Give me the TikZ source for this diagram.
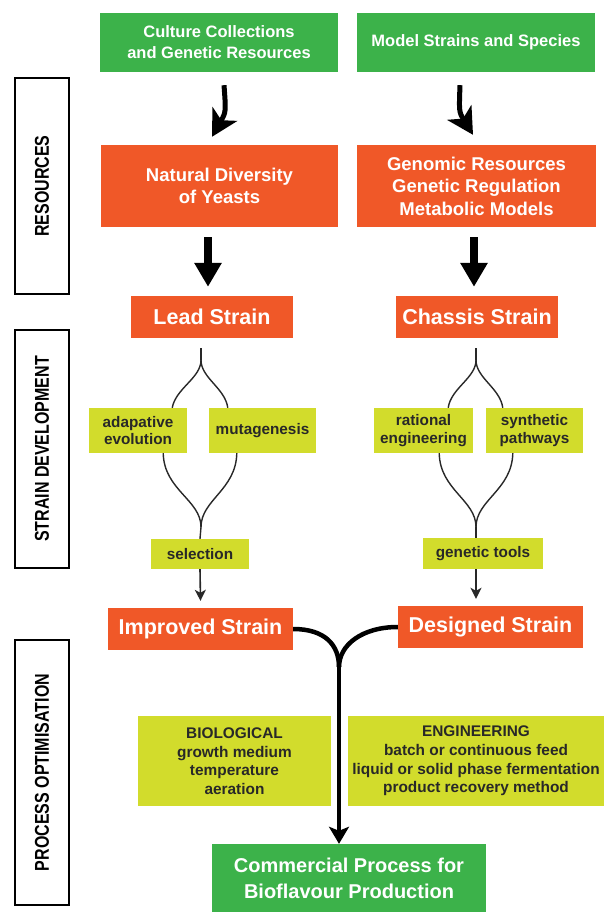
\documentclass[tikz,border=0pt]{standalone}
\usepackage{fontspec}
\setmainfont{Liberation Sans}
\usetikzlibrary{arrows.meta}
\definecolor{gr}{RGB}{60,178,74}
\definecolor{orng}{RGB}{240,88,40}
\definecolor{ylw}{RGB}{210,220,44}
\definecolor{dk}{RGB}{40,40,40}
\tikzset{
  basebox/.style={inner sep=0pt, align=center},
  gbox/.style={basebox, fill=gr, text=white},
  obox/.style={basebox, fill=orng, text=white},
  ybox/.style={basebox, fill=ylw, text=dk},
  lab/.style={basebox, draw=black, line width=2.5pt, fill=white, rotate=90,
     font=\fontsize{20}{22}\selectfont\bfseries},
  fbig/.style={font=\fontsize{16.5}{21}\selectfont\bfseries},
  fmid/.style={font=\fontsize{18.5}{22.5}\selectfont\bfseries},
  fstrain/.style={font=\fontsize{21.5}{24}\selectfont\bfseries},
  fsmall/.style={font=\fontsize{15.3}{17.7}\selectfont\bfseries},
  fbot/.style={font=\fontsize{15.4}{18.6}\selectfont\bfseries},
  lens/.style={draw=dk, line width=1.4pt},
  fatarrow/.style={line width=8pt, -{Triangle[width=26pt,length=24pt]}},
  curvarrow/.style={line width=5pt, -{Stealth[width=28pt,length=26pt,inset=7pt]}},
  thinarrow/.style={draw=dk, line width=1.6pt, -{Stealth[width=11pt,length=11pt,inset=3pt]}},
  yarrow/.style={line width=4.5pt},
}
\begin{document}
\begin{tikzpicture}[x=1pt,y=-1pt]
\useasboundingbox[fill=white] (0,0) rectangle (604,912);

% side labels
\node[lab, minimum width=216pt, minimum height=54pt] (res) at (42,186) {\scalebox{0.8}[1]{RESOURCES}};
\node[lab, minimum width=238pt, minimum height=54pt] (sdev) at (42,449) {\scalebox{0.8}[1]{STRAIN DEVELOPMENT}};
\node[lab, minimum width=265pt, minimum height=54pt] (popt) at (42,772.5) {\scalebox{0.8}[1]{PROCESS OPTIMISATION}};

% top green boxes
\node[gbox, fbig, minimum width=238pt, minimum height=59pt] (cult) at (219,42.5) {Culture Collections\\and Genetic Resources};
\node[gbox, fbig, minimum width=238pt, minimum height=59pt] (model) at (476,42.5) {Model Strains and Species};

% orange resource boxes
\node[obox, fmid, minimum width=237pt, minimum height=82pt] (nat) at (219.5,186) {Natural Diversity\\of Yeasts};
\node[obox, fmid, minimum width=239pt, minimum height=82pt] (gen) at (476.5,186) {Genomic Resources\\Genetic Regulation\\Metabolic Models};

% strains
\node[obox, fstrain, minimum width=162pt, minimum height=42pt] (lead) at (212,317) {Lead Strain};
\node[obox, fstrain, minimum width=162pt, minimum height=42pt] (chas) at (477,317) {Chassis Strain};

% yellow small boxes
\node[ybox, fsmall, minimum width=98pt, minimum height=45pt] (adapt) at (138,430.5) {adapative\\evolution};
\node[ybox, fsmall, minimum width=107pt, minimum height=45pt] (mutag) at (262.5,430.5) {mutagenesis};
\node[ybox, fsmall, minimum width=99pt, minimum height=45pt] (ratio) at (423.5,430.5) {rational\\engineering};
\node[ybox, fsmall, minimum width=97pt, minimum height=45pt] (synth) at (534.5,430.5) {synthetic\\pathways};
\node[ybox, fsmall, minimum width=98pt, minimum height=30pt] (sel) at (200,554) {selection};
\node[ybox, fsmall, minimum width=120pt, minimum height=31pt] (gtools) at (483,553.5) {genetic tools};

% improved / designed
\node[obox, fstrain, minimum width=185pt, minimum height=42pt] (impr) at (200.5,629) {Improved Strain};
\node[obox, fstrain, minimum width=185pt, minimum height=42pt] (desg) at (490.5,627) {Designed Strain};

% bottom yellow boxes
\node[ybox, fbot, minimum width=193pt, minimum height=90pt] (bio) at (234.5,761) {BIOLOGICAL\\growth medium\\temperature\\aeration};
\node[ybox, fbot, minimum width=256pt, minimum height=90pt] (eng) at (476,761) {ENGINEERING\\batch or continuous feed\\liquid or solid phase fermentation\\product recovery method};

% commercial
\node[gbox, font=\fontsize{20}{26}\selectfont\bfseries, minimum width=274pt, minimum height=68pt] (comm) at (349,878) {Commercial Process for\\Bioflavour Production};

% curved top arrows
\draw[curvarrow] ([xshift=5pt,yshift=-13pt]cult.south) .. controls (226,112) .. ([xshift=-7.5pt,yshift=8pt]nat.north);
\draw[curvarrow] ([xshift=-16pt,yshift=-13pt]model.south) .. controls (459,112) .. ([xshift=-3.5pt,yshift=10pt]gen.north);

% fat arrows
\draw[fatarrow] ([xshift=-11.5pt,yshift=-10pt]nat.south) -- ([xshift=-4pt,yshift=9pt]lead.north);
\draw[fatarrow] ([xshift=-2.5pt,yshift=-10pt]gen.south) -- ([xshift=-3pt,yshift=9pt]chas.north);

% left lens
\coordinate (la) at (201,348);
\coordinate (ls) at (201,360);
\coordinate (lj) at (201,527);
\draw[lens] (la) -- (ls);
\draw[lens] (ls) .. controls (201,378) and (176,388) .. ([xshift=-15pt]adapt.north east);
\draw[lens] (ls) .. controls (201,378) and (225,388) .. ([xshift=19pt]mutag.north west);
\draw[lens] ([xshift=-24pt]adapt.south east) .. controls (164,490) and (201,500) .. (lj);
\draw[lens] ([xshift=28pt]mutag.south west) .. controls (236,490) and (201,500) .. (lj);
\draw[lens] (lj) -- (sel.north);
\draw[thinarrow] (sel.south) -- ([yshift=7pt]impr.north);

% right lens
\coordinate (ra) at (476,348);
\coordinate (rs) at (476,360);
\coordinate (rj) at (476,527);
\draw[lens] (ra) -- (rs);
\draw[lens] (rs) .. controls (476,378) and (451,388) .. ([xshift=-25pt]ratio.north east);
\draw[lens] (rs) .. controls (476,378) and (500,388) .. ([xshift=17pt]synth.north west);
\draw[lens] ([xshift=-34pt]ratio.south east) .. controls (440,490) and (476,500) .. (rj);
\draw[lens] ([xshift=27pt]synth.south west) .. controls (512,490) and (476,500) .. (rj);
\draw[lens] (rj) -- (rj |- gtools.north);
\draw[thinarrow] (rj |- gtools.south) -- ([yshift=7pt]rj |- desg.north);

% Y connector
\coordinate (yj) at (339,667);
\draw[yarrow] (impr.east) .. controls (325,629) and (339,645) .. (yj);
\draw[yarrow] (desg.west) .. controls (362,627) and (339,645) .. (yj);
\draw[yarrow, -{Stealth[width=20pt,length=17pt,inset=4pt]}] (yj) -- (yj |- comm.north);
\end{tikzpicture}
\end{document}
